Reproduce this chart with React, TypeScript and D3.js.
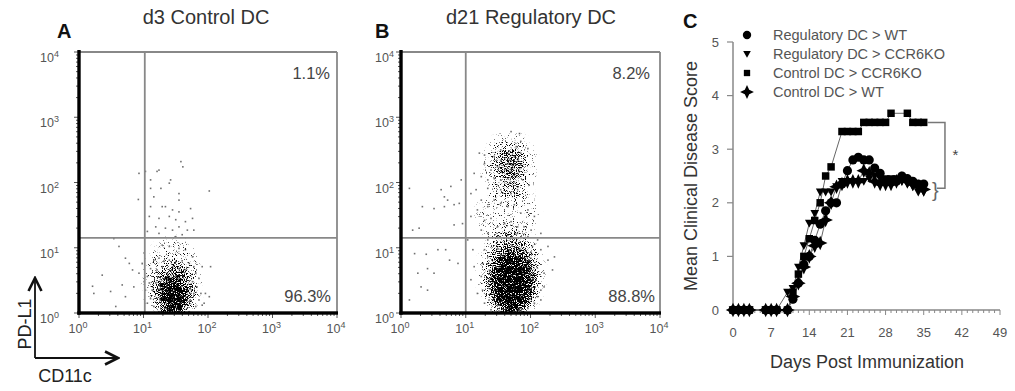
import React from 'react';
import * as d3 from 'd3';

// ---------- panels A / B : flow plots (values in log10 decades) ----------
const decades = [0, 1, 2, 3, 4];

const pctA = ['1.1%', '96.3%'];
const pctB = ['8.2%', '88.8%'];
const gateA = [1.02, 1.15]; // CD11c, PD-L1 gate (decades)
const gateB = [1.0, 1.15];

// scattered events  [CD11c, PD-L1]
const eventsA: number[][] = [
  [1.58, 2.32], [1.61, 2.24], [0.93, 2.14], [1.03, 2.17], [1.21, 2.17], [1.24, 2.19], [1.11, 2.04],
  [1.42, 2.04], [1.4, 1.99], [1.11, 1.91], [1.27, 1.91], [1.55, 1.83], [2.02, 1.87], [0.92, 1.74],
  [1.16, 1.78], [1.55, 1.73], [1.11, 1.63], [1.29, 1.63], [1.34, 1.63], [1.45, 1.58], [1.55, 1.55],
  [1.73, 1.6], [1.09, 1.48], [1.24, 1.45], [1.4, 1.48], [1.5, 1.43], [1.65, 1.4], [1.76, 1.45],
  [1.19, 1.32], [1.34, 1.3], [1.45, 1.27], [1.55, 1.32], [1.68, 1.27], [1.78, 1.27], [1.5, 1.17],
  [1.6, 1.2], [1.24, 1.22], [1.06, 1.25],
  [0.54, 1.14], [0.62, 1.02], [0.72, 0.84], [0.78, 0.76], [0.83, 0.66], [0.36, 0.58], [0.21, 0.41],
  [0.49, 0.33], [0.23, 0.3], [0.67, 0.43], [0.85, 0.4], [0.93, 0.61], [0.98, 0.76], [1.01, 0.92],
  [1.29, 1.04], [1.4, 1.02], [1.55, 0.99], [1.65, 0.97], [1.76, 0.86], [1.91, 0.71], [2.04, 0.71],
  [1.96, 0.3], [2.02, 0.25], [1.94, 0.15], [0.57, 0.1], [0.72, 0.25], [1.06, 0.56],
  [1.16, 0.81], [1.24, 0.84], [1.32, 0.79], [1.4, 0.81], [1.5, 0.79], [1.6, 0.8], [1.71, 0.76],
  [1.78, 0.71], [1.11, 0.68], [1.21, 0.66], [1.65, 0.66], [1.81, 0.61], [1.86, 0.53], [1.09, 0.46],
  [1.14, 0.35], [1.83, 0.4], [1.89, 0.3], [1.11, 0.22], [1.86, 0.2], [1.81, 0.1], [1.16, 0.1],
  [1.24, 0.02], [1.71, 0.02], [1.55, 0.01], [1.34, 0.01], [1.06, 0.15], [1.03, 0.35], [1.01, 0.48],
  [1.29, 0.71], [1.45, 0.71], [1.55, 0.68], [1.37, 0.61], [1.76, 0.48], [1.91, 0.12], [1.19, 0.46],
  [1.78, 0.3],
];

// density of the crowded regions of panel A  [cx, cy, rx, ry, density]
const coresA: number[][] = [
  [1.45, 0.5, 0.46, 0.66, 0.3],
  [1.47, 0.34, 0.3, 0.43, 0.55],
  [1.47, 0.26, 0.18, 0.27, 1],
];

const eventsB: number[][] = [
  [0.13, 1.91], [0.33, 1.63], [0.51, 1.6], [0.18, 1.27], [0.28, 1.3], [0.39, 0.9], [0.21, 0.91],
  [0.26, 0.61], [0.41, 0.68], [0.51, 0.61], [0.31, 0.4], [0.41, 0.35], [0.13, 0.2], [0.62, 1.89],
  [0.67, 1.78], [0.72, 1.73], [0.67, 1.63], [0.82, 1.66], [0.9, 1.68], [0.77, 1.94], [0.57, 0.97],
  [0.69, 0.97], [0.75, 0.81], [0.88, 0.76], [0.93, 2.04], [0.95, 1.37], [0.82, 1.35],
  [1.08, 1.83], [1.16, 1.89], [1.24, 1.73], [1.18, 1.58], [1.34, 1.63], [1.44, 1.73], [1.54, 1.68],
  [1.65, 1.63], [1.75, 1.66], [1.85, 1.53], [1.96, 1.58], [2.06, 1.48], [1.29, 1.42], [1.39, 1.45],
  [1.49, 1.32], [1.6, 1.37], [1.7, 1.4], [1.8, 1.32], [1.9, 1.32], [2.01, 1.27], [2.16, 1.22],
  [1.24, 1.27], [1.34, 1.22], [1.08, 1.48], [1.03, 1.12], [1.11, 0.97], [1.13, 0.71], [1.08, 0.51],
  [1.18, 0.3], [2.27, 1.02], [2.37, 0.86], [2.34, 0.66], [2.21, 0.4], [2.16, 0.2],
  [1.7, 2.78], [1.83, 2.75], [1.85, 2.63], [1.78, 2.55], [1.96, 2.52], [1.54, 2.5], [1.65, 2.45],
  [1.75, 2.4], [1.85, 2.45], [1.44, 2.4], [1.54, 2.34], [1.65, 2.29], [1.75, 2.29], [1.85, 2.27],
  [1.49, 2.24], [1.6, 2.19], [1.7, 2.17], [1.8, 2.14], [1.39, 2.19], [1.29, 2.29], [1.24, 2.09],
  [1.34, 2.04], [1.44, 2.06], [1.54, 2.04], [1.65, 2.06], [1.75, 2.01], [1.88, 2.04], [1.98, 1.96],
  [1.34, 1.91], [1.54, 1.89], [1.7, 1.83], [1.8, 1.89], [1.13, 2.14], [1.21, 2.45], [1.29, 2.42],
  [1.34, 1.12], [1.49, 1.17], [1.65, 1.19], [1.8, 1.22], [1.96, 1.17], [2.11, 1.12], [1.29, 0.97],
  [2.16, 0.97], [2.27, 0.81], [1.26, 0.76], [1.24, 0.56], [2.21, 0.61], [1.26, 0.35], [2.16, 0.35],
  [1.29, 0.15], [1.39, 0.05], [1.54, 0.02], [1.75, 0.02], [1.96, 0.07], [2.06, 0.15], [2.11, 0.25],
  [1.34, 0.86], [2.03, 1.02], [1.36, 0.2],
];

const coresB: number[][] = [
  [1.65, 1.5, 0.5, 0.45, 0.25],
  [1.68, 2.25, 0.42, 0.52, 0.3],
  [1.68, 2.27, 0.22, 0.28, 0.5],
  [1.7, 0.6, 0.5, 0.7, 0.38],
  [1.71, 0.52, 0.38, 0.55, 0.6],
  [1.71, 0.45, 0.27, 0.42, 1],
];

// ---------- panel C : mean clinical score ----------
const days = [0, 1, 2, 3, 6, 7, 8, 10, 11, 12, 13, 14, 15, 16, 17, 18, 19, 20, 21, 22, 23, 24, 25, 26, 27, 28, 29, 30, 31, 32, 33, 34, 35];
const regWT = [0, 0, 0, 0, 0, 0, 0, 0, 0.2, 0.5, 0.85, 1.0, 1.3, 1.6, 1.85, 2.0, 2.0, 2.35, 2.6, 2.8, 2.85, 2.8, 2.8, 2.65, 2.55, 2.4, 2.4, 2.4, 2.5, 2.45, 2.4, 2.35, 2.35];
const regCCR6KO = [0, 0, 0, 0, 0, 0, 0, 0.33, 0.4, 0.8, 1.2, 1.62, 1.8, 2.2, 2.2, 2.2, 2.3, 2.4, 2.4, 2.4, 2.4, 2.4, 2.45, 2.5, 2.45, 2.45, 2.45, 2.45, 2.4, 2.35, 2.3, 2.2, 2.2];
const ctrlCCR6KO = [0, 0, 0, 0, 0, 0, 0, 0, 0.33, 0.67, 1.0, 1.33, 1.67, 2.0, 2.5, 2.67, null, 3.33, 3.33, 3.33, 3.33, 3.5, 3.5, 3.5, 3.5, 3.5, 3.67, null, null, 3.67, 3.5, 3.5, 3.5];
const ctrlWT = [0, 0, 0, 0, 0, 0, 0, 0, 0.25, 0.5, 0.8, 1.0, 1.2, 1.25, 1.68, 2.0, 2.3, 2.35, 2.4, 2.4, 2.4, 2.6, 2.55, 2.4, 2.35, 2.35, 2.35, 2.4, 2.45, 2.4, 2.35, 2.3, 2.25];
const seriesNames = ['Regulatory DC > WT', 'Regulatory DC > CCR6KO', 'Control DC > CCR6KO', 'Control DC > WT'];
const dayTicks = [0, 7, 14, 21, 28, 35, 42, 49];
const scoreTicks = [0, 1, 2, 3, 4, 5];

const font = '"Liberation Sans", Arial, Helvetica, sans-serif';

const star4 = {
  draw(ctx: any, size: number) {
    const r = Math.sqrt(size) * 0.75;
    const ri = r * 0.45;
    for (let i = 0; i < 8; i++) {
      const a = (i * Math.PI) / 4 - Math.PI / 2;
      const rad = i % 2 ? ri : r;
      if (i === 0) ctx.moveTo(rad * Math.cos(a), rad * Math.sin(a));
      else ctx.lineTo(rad * Math.cos(a), rad * Math.sin(a));
    }
    ctx.closePath();
  },
};
const triDown = {
  draw(ctx: any, size: number) {
    const s = Math.sqrt(size) * 1.2;
    ctx.moveTo(-s / 2, -s * 0.4);
    ctx.lineTo(s / 2, -s * 0.4);
    ctx.lineTo(0, s * 0.5);
    ctx.closePath();
  },
};
const symbolTypes = [d3.symbolCircle, triDown, d3.symbolSquare, star4];
const symbolSizes = [66, 52, 56, 95];
const legendSizes = [55, 40, 40, 85];

function Pow({ x, y, e, anchor }: { x: number; y: number; e: number; anchor: string }) {
  return (
    <text x={x} y={y} textAnchor={anchor} fontSize={12.5} fill="#555" fontFamily={font}>
      10<tspan dy={-5} fontSize={9}>{e}</tspan>
    </text>
  );
}

function FlowPanel({ left, right, ylabX, letter, letterX, title, titleX, events, cores, gate, pct, pctRight, id }: any) {
  const top = 52, bottom = 313;
  const x = d3.scaleLog().domain([1, 1e4]).range([left, right]);
  const y = d3.scaleLog().domain([1, 1e4]).range([bottom, top]);
  const ticks = x.ticks();
  return (
    <g>
      <clipPath id={`plot${id}`}>
        <rect x={left} y={top} width={right - left} height={bottom - top} />
      </clipPath>
      <text x={letterX} y={38} fontSize={20} fontWeight="bold" fontFamily={font} fill="#111">{letter}</text>
      <text x={titleX} y={24} fontSize={20} textAnchor="middle" fontFamily={font} fill="#333">{title}</text>
      {/* crowded regions, drawn as a density field */}
      <g clipPath={`url(#plot${id})`}>
        <g filter={`url(#dense${id})`}>
          {cores.map((c: number[], i: number) => {
            const cx = x(10 ** c[0]), cy = y(10 ** c[1]);
            const rx = x(10 ** (c[0] + c[2])) - cx, ry = cy - y(10 ** (c[1] + c[3]));
            return <ellipse key={i} cx={cx} cy={cy} rx={rx} ry={ry} fill="#000" opacity={c[4]} />;
          })}
        </g>
        {events.map((p: number[], i: number) => (
          <rect key={i} x={x(10 ** p[0]) - 0.8} y={y(10 ** p[1]) - 0.8} width={1.6} height={1.6} fill="#333" opacity={0.7} />
        ))}
      </g>
      {/* box */}
      <line x1={left} x2={right} y1={top} y2={top} stroke="#888" strokeWidth={1.8} />
      <line x1={right} x2={right} y1={top} y2={bottom} stroke="#888" strokeWidth={1.8} />
      {/* gates */}
      <line x1={x(10 ** gate[0])} x2={x(10 ** gate[0])} y1={top} y2={bottom} stroke="#888" strokeWidth={1.8} />
      <line x1={left} x2={right} y1={y(10 ** gate[1])} y2={y(10 ** gate[1])} stroke="#888" strokeWidth={1.8} />
      {/* ticks */}
      {ticks.map((t, i) => {
        const major = Math.abs(Math.log10(t) - Math.round(Math.log10(t))) < 1e-9;
        const len = major ? 5 : 3;
        return (
          <g key={i} stroke="#555" strokeWidth={1}>
            <line x1={x(t)} x2={x(t)} y1={bottom} y2={bottom + len} />
            <line x1={left - len} x2={left} y1={y(t)} y2={y(t)} />
          </g>
        );
      })}
      {/* heavy axes */}
      <rect x={left - 1.7} y={top - 2} width={3.4} height={bottom - top + 3.7} fill="#000" />
      <rect x={left - 1.7} y={bottom - 1.7} width={right - left + 2.7} height={3.4} fill="#000" />
      {decades.map((e) => (
        <g key={e}>
          <Pow x={ylabX} y={y(10 ** e) + 10} e={e} anchor="end" />
          <Pow x={x(10 ** e) - 1} y={333} e={e} anchor="middle" />
        </g>
      ))}
      <text x={pctRight[0]} y={79} textAnchor="end" fontSize={16.5} fontFamily={font} fill="#444">{pct[0]}</text>
      <text x={pctRight[1]} y={302} textAnchor="end" fontSize={16.5} fontFamily={font} fill="#444">{pct[1]}</text>
    </g>
  );
}

function ScorePanel() {
  const x = d3.scaleLinear().domain([0, 49]).range([733, 1000]);
  const y = d3.scaleLinear().domain([0, 5]).range([310, 42]);
  const all = [regWT, regCCR6KO, ctrlCCR6KO, ctrlWT];
  const line = d3.line<any>().x((d) => x(d[0])).y((d) => y(d[1]));
  const minor = d3.range(0, 50);
  return (
    <g fontFamily={font}>
      <text x={683} y={28} fontSize={20} fontWeight="bold" fill="#111">C</text>
      {/* axes */}
      <line x1={733} x2={733} y1={y(5)} y2={y(0)} stroke="#888" strokeWidth={1.5} />
      <line x1={733} x2={1000} y1={y(0)} y2={y(0)} stroke="#888" strokeWidth={1.5} />
      {scoreTicks.map((t) => (
        <g key={t}>
          <line x1={727} x2={733} y1={y(t)} y2={y(t)} stroke="#888" strokeWidth={1.2} />
          <text x={719} y={y(t) + 4.5} textAnchor="end" fontSize={13} fill="#555">{t}</text>
        </g>
      ))}
      {minor.map((d) => (
        <line key={d} x1={x(d)} x2={x(d)} y1={y(0)} y2={y(0) + (d % 7 === 0 ? 5 : 3)} stroke="#888" strokeWidth={1} />
      ))}
      {dayTicks.map((t) => (
        <text key={t} x={x(t)} y={337} textAnchor="middle" fontSize={13} fill="#555">{t}</text>
      ))}
      <text x={867} y={368} textAnchor="middle" fontSize={18} fill="#333">Days Post Immunization</text>
      <text transform={`translate(697,${y(2.5)}) rotate(-90)`} textAnchor="middle" fontSize={18} fill="#333">Mean Clinical Disease Score</text>
      {/* series */}
      {all.map((vals, si) => {
        const pts = days.map((d, i) => [d, vals[i]]).filter((p) => p[1] != null);
        return <path key={si} d={line(pts) || ''} fill="none" stroke="#666" strokeWidth={1} />;
      })}
      {all.map((vals, si) => {
        const sym = d3.symbol().type(symbolTypes[si] as any).size(symbolSizes[si]);
        return (
          <g key={si}>
            {days.map((d, i) =>
              vals[i] == null ? null : (
                <path key={i} d={sym() || ''} transform={`translate(${x(d)},${y(vals[i] as number)})`} fill="#000" />
              )
            )}
          </g>
        );
      })}
      {/* significance bracket */}
      <path d={`M${x(35.6)},${y(3.5)}H${x(38.9)}V${y(2.27)}H${x(37.4)}`} fill="none" stroke="#777" strokeWidth={1.5} />
      <text x={x(36.5)} y={y(2.24) + 7} fontSize={20} fill="#666">{'}'}</text>
      <text x={x(40.3)} y={y(2.95) + 8} fontSize={15} fill="#444">*</text>
      {/* legend */}
      {seriesNames.map((n, i) => {
        const sym = d3.symbol().type(symbolTypes[i] as any).size(legendSizes[i]);
        const cy = 35 + i * 19;
        return (
          <g key={n}>
            <path d={sym() || ''} transform={`translate(747,${cy})`} fill="#000" />
            <text x={773} y={cy + 5} fontSize={14.5} fill="#555">{n}</text>
          </g>
        );
      })}
    </g>
  );
}

// density field -> speckled dots: where the field is thin only the strongest noise grains survive
function DenseFilter({ id, seed }: { id: string; seed: number }) {
  return (
    <filter id={`dense${id}`} filterUnits="userSpaceOnUse" x={0} y={0} width={1015} height={391} colorInterpolationFilters="sRGB">
      <feGaussianBlur in="SourceGraphic" stdDeviation={4} result="soft" />
      <feTurbulence type="fractalNoise" baseFrequency={1.1} numOctaves={1} seed={seed} result="noise" />
      <feColorMatrix in="noise" type="matrix" values="0 0 0 0 0  0 0 0 0 0  0 0 0 0 0  2.4 0 0 0 -0.7" result="n" />
      <feComposite in="soft" in2="n" operator="arithmetic" k1={0} k2={1} k3={1} k4={-1.04} result="sum" />
      <feComponentTransfer in="sum">
        <feFuncA type="linear" slope={4} intercept={0} />
      </feComponentTransfer>
    </filter>
  );
}

export default function App() {
  return (
    <svg width={1015} height={391} style={{ position: 'absolute', left: 0, top: 0, background: '#fff' }}>
      <defs>
        <DenseFilter id="A" seed={3} />
        <DenseFilter id="B" seed={11} />
        <marker id="arr" viewBox="0 0 10 10" refX={9} refY={5} markerWidth={9} markerHeight={9} orient="auto">
          <path d="M1,1L9,5L1,9" fill="none" stroke="#111" strokeWidth={1.6} />
        </marker>
      </defs>
      <FlowPanel
        id="A" left={79} right={337} ylabX={59} letter="A" letterX={57} title="d3 Control DC" titleX={206}
        events={eventsA} cores={coresA} gate={gateA} pct={pctA} pctRight={[330, 331]}
      />
      <FlowPanel
        id="B" left={401} right={660} ylabX={394} letter="B" letterX={375} title="d21 Regulatory DC" titleX={531}
        events={eventsB} cores={coresB} gate={gateB} pct={pctB} pctRight={[650, 655]}
      />
      {/* axis key */}
      <path d="M35,358V278" stroke="#111" strokeWidth={1.8} markerEnd="url(#arr)" />
      <path d="M35,358H118" stroke="#111" strokeWidth={1.8} markerEnd="url(#arr)" />
      <text transform="translate(31,324) rotate(-90)" textAnchor="middle" fontSize={18} fontFamily={font} fill="#222">PD-L1</text>
      <text x={65} y={382} textAnchor="middle" fontSize={18} fontFamily={font} fill="#222">CD11c</text>
      <ScorePanel />
    </svg>
  );
}
